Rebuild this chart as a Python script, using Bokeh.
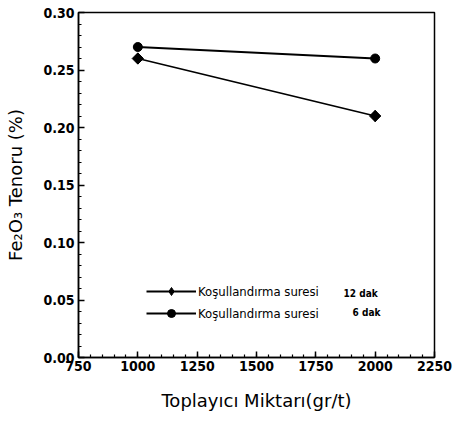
import math
from bokeh.plotting import figure
from bokeh.models import Legend, LegendItem, FixedTicker, NumeralTickFormatter, Range1d, Label
from bokeh.embed import file_html
from bokeh.resources import INLINE

x_vals = [1000, 2000]
y_12dak = [0.26, 0.21]
y_6dak = [0.27, 0.26]
x_ticks = [750, 1000, 1250, 1500, 1750, 2000, 2250]
y_ticks = [0.00, 0.05, 0.10, 0.15, 0.20, 0.25, 0.30]
legend_label = "Koşullandırma suresi"
suffix_12 = "12 dak"
suffix_6 = "6 dak"

p = figure(width=453, height=428, output_backend="svg", toolbar_location=None,
           x_range=Range1d(750, 2250), y_range=Range1d(0, 0.30),
           min_border_left=78, min_border_right=19, min_border_top=12, min_border_bottom=71)
p.grid.visible = False
p.outline_line_color = "black"
p.outline_line_width = 1.5

font = "DejaVu Sans Condensed"
for ax in (p.xaxis[0], p.yaxis[0]):
    ax.axis_line_width = 1.5
    ax.major_tick_in = 6
    ax.major_tick_out = 0
    ax.minor_tick_in = 3
    ax.minor_tick_out = 0
    ax.major_tick_line_width = 1.5
    ax.minor_tick_line_width = 1.2
    ax.minor_tick_line_color = "black"
    ax.major_label_text_font = font
    ax.major_label_text_font_size = "14px"
    ax.major_label_text_font_style = "bold"
    ax.major_label_text_color = "black"
    ax.axis_label_text_font = "DejaVu Sans"
    ax.axis_label_text_font_style = "normal"
    ax.axis_label_text_font_size = "18px"
    ax.axis_label_text_color = "black"

p.xaxis.ticker = FixedTicker(ticks=x_ticks, minor_ticks=[750 + 50 * i for i in range(31)])
p.yaxis.ticker = FixedTicker(ticks=y_ticks, minor_ticks=[0.01 * i for i in range(31)])
p.yaxis.formatter = NumeralTickFormatter(format="0.00")
p.xaxis.axis_label = "Toplayıcı Miktarı(gr/t)"
p.yaxis.axis_label = "Fe₂O₃ Tenoru (%)"
p.xaxis.major_label_standoff = 3
p.yaxis.major_label_standoff = 4
p.xaxis.axis_label_standoff = 16
p.yaxis.axis_label_standoff = 14

l1 = p.line(x_vals, y_12dak, line_color="black", line_width=1.8)
m1 = p.scatter(x_vals, y_12dak, marker="square", size=8, angle=math.pi / 4, color="black")
d1 = p.scatter(x_vals, y_12dak, marker="diamond", size=11, color="black")
l2 = p.line(x_vals, y_6dak, line_color="black", line_width=1.8)
m2 = p.scatter(x_vals, y_6dak, marker="circle", size=9, color="black")

legend = Legend(items=[LegendItem(label=legend_label, renderers=[l1, d1]),
                       LegendItem(label=legend_label, renderers=[l2, m2])],
                location=(68, 34), border_line_color=None, background_fill_alpha=0,
                glyph_width=50, label_text_font=font, label_text_font_size="13px",
                label_text_color="black",
                spacing=2, padding=2, label_standoff=2, margin=0)
p.add_layout(legend)

p.add_layout(Label(x=1867, y=0.0557, text=suffix_12, text_font=font, text_font_size="10px",
                   text_font_style="bold", text_baseline="middle", text_color="black"))
p.add_layout(Label(x=1905, y=0.039, text=suffix_6, text_font=font, text_font_size="10px",
                   text_font_style="bold", text_baseline="middle", text_color="black"))

open("out.html", "w").write(file_html(p, INLINE))
